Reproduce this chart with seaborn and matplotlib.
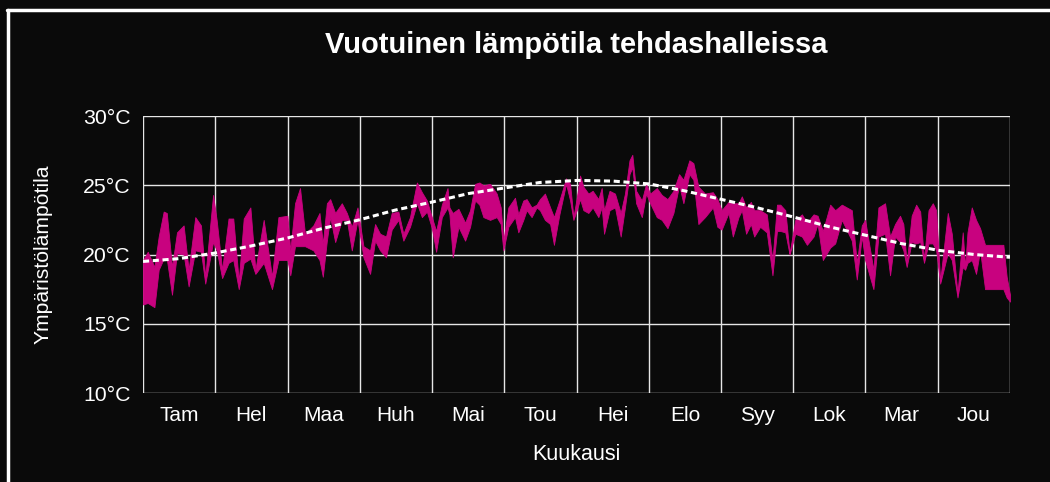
import matplotlib
matplotlib.use("Agg")
import matplotlib.pyplot as plt
import numpy as np
import pandas as pd
import seaborn as sns
from matplotlib.lines import Line2D

# päivä, ylä- ja alaraja (°C) luettu kuvasta
days = [0, 2, 4.8, 6.6, 8.7, 10, 12.2, 14.3, 17.1, 19.2, 22, 24.4, 26.2, 29.5, 31, 33.3,
        36, 38, 40.3, 42.4, 45.2, 47.3, 50.8, 54.3, 57, 60.8, 62, 64, 66.1, 68.2,
        71.7, 74.3, 75.7, 77.4, 78.8, 80.9, 83.7, 85.8, 87.9, 90.3, 92.8, 95.6, 97.7,
        99.8, 102.3, 104.7, 107.5, 109.6, 112.4, 115.3, 117.4, 119.5, 121.6, 123.4,
        125.8, 128.2, 129, 130.4, 132.8, 135.6, 137.7, 139.8, 141.6, 143.3, 146.1,
        148.9, 150.6, 151.7, 153.8, 156.6, 158, 160.1, 161.5, 163.6, 165.7, 167.1,
        169.2, 171.4, 173, 175.3, 178.1, 179.8, 181.2, 182.6, 184, 185.4, 187.5,
        189.3, 191.7, 193.1, 194.1, 196.4, 198.7, 201.1, 202.9, 204.8, 206, 207.6,
        210, 211.8, 213.5, 216.3, 218.4, 220.8, 223.3, 225.7, 227.5, 230, 231.7,
        233.8, 236.6, 239.9, 241.8, 243.6, 246.5, 248.3, 250.7, 252.1, 253.9, 255.9,
        257.3, 259.8, 262.6, 265, 266.9, 268.3, 270.4, 272.2, 274.6, 277.4, 279.5,
        282.3, 284, 286.2, 289.3, 291.4, 294.2, 298.4, 300.5, 302.6, 304, 307.5,
        309.6, 312.4, 314.5, 316.6, 318.7, 320.1, 321.5, 323.6, 325.5, 327.2, 328.8,
        330.7, 332.5, 333.9, 335.6, 338.8, 340.5, 342.9, 345.1, 346.1, 347.1, 348.9,
        350.7, 352.4, 354.5, 362.2, 363.6, 365]
upper = [19.6, 20.2, 19.1, 21.3, 23.1, 23.0, 19.1, 21.6, 22.1, 18.9, 22.7, 22.1, 18.4, 24.3, 22.5, 18.9,
         22.6, 22.6, 18.1, 22.6, 23.4, 18.9, 22.5, 18.4, 22.7, 22.8, 20.3, 23.7, 24.8, 21.5,
         22.1, 23.0, 20.8, 23.7, 24.0, 23.0, 23.7, 23.0, 22.0, 23.4, 20.6, 20.3, 22.2,
         21.5, 21.3, 23.0, 23.1, 21.5, 22.7, 25.2, 24.5, 23.9, 22.7, 21.7,
         23.6, 24.8, 23.4, 23.0, 23.3, 22.3, 23.2, 25.1, 25.2, 25.0, 25.1,
         24.4, 23.4, 21.0, 23.4, 24.1, 22.9, 23.9, 24.0, 23.4, 23.6, 24.0,
         24.4, 23.4, 22.7, 23.9, 25.5, 25.1, 22.7, 24.1, 25.7, 24.9, 24.4,
         24.6, 24.0, 24.8, 23.2, 24.6, 24.4, 23.0, 24.4, 26.8, 27.2, 24.6,
         23.9, 25.1, 24.4, 24.8, 24.3, 24.0, 24.6, 25.8, 25.4, 26.8, 26.6,
         24.9, 24.4, 24.5, 24.0, 23.2, 23.8, 23.7, 23.7, 24.2, 23.4, 23.8,
         23.2, 23.2, 22.9, 19.6, 23.6, 23.6, 23.2, 20.1, 22.5, 22.9, 22.3,
         22.9, 22.8, 21.7, 23.6, 23.2, 23.6, 23.2, 19.4, 22.1, 22.5, 18.9,
         23.4, 23.7, 21.3, 22.2, 22.8, 22.2, 19.4, 22.8, 23.6, 23.1, 19.6,
         23.2, 23.7, 23.2, 18.1, 23.0, 21.5, 17.2, 21.6, 19.1, 21.6, 23.4,
         22.5, 21.9, 20.7, 20.7, 18.4, 17.1]
lower = [16.4, 16.5, 16.2, 18.9, 19.7, 19.7, 17.1, 20.1, 20.0, 17.7, 20.3, 20.2, 17.9, 20.9, 20.3, 18.3,
         19.4, 19.6, 17.5, 19.4, 19.7, 18.6, 19.4, 17.5, 19.6, 19.6, 18.5, 20.6, 20.6, 20.6,
         20.3, 19.6, 18.4, 21.0, 22.7, 20.9, 22.5, 22.5, 20.3, 22.5, 19.8, 18.6, 21.0,
         20.3, 19.8, 21.8, 22.5, 21.0, 22.0, 23.7, 22.7, 23.1, 21.9, 20.2,
         22.7, 23.4, 22.9, 19.8, 22.0, 21.0, 22.0, 23.9, 23.6, 22.7, 22.5,
         22.7, 22.2, 20.3, 22.0, 22.7, 21.6, 22.5, 23.2, 22.7, 23.4, 23.2,
         22.5, 22.2, 20.7, 22.9, 25.1, 23.9, 22.5, 23.2, 24.0, 23.2, 23.0,
         23.4, 22.7, 23.4, 21.5, 23.2, 23.4, 21.3, 23.4, 25.8, 26.3, 23.7,
         22.7, 24.4, 23.7, 22.7, 22.5, 21.9, 23.0, 25.0, 23.7, 25.8, 25.4,
         22.2, 22.7, 23.4, 22.0, 21.8, 23.0, 21.3, 22.7, 23.2, 21.5, 22.2,
         21.3, 22.0, 21.6, 18.5, 21.7, 21.7, 21.6, 20.0, 21.5, 21.3, 20.7,
         21.3, 22.2, 19.6, 20.5, 20.8, 22.5, 21.0, 18.2, 21.3, 19.6, 17.5,
         21.3, 21.5, 18.5, 21.3, 20.9, 20.3, 19.1, 20.9, 20.8, 20.9, 19.4,
         20.8, 20.8, 20.3, 17.9, 20.1, 19.6, 16.9, 19.1, 18.9, 19.4, 19.6,
         18.6, 20.3, 17.5, 17.5, 16.9, 16.6]

# sovitettu vuosikäyrä
trend_days = [0, 15, 30, 45, 61, 76, 91, 106, 122, 137, 152, 167, 183, 198, 213, 228,
              243, 258, 274, 289, 304, 319, 335, 350, 365]
trend_vals = [19.5, 19.7, 20.1, 20.6, 21.2, 21.9, 22.5, 23.2, 23.8, 24.4, 24.8, 25.2, 25.35,
              25.3, 25.1, 24.6, 24.0, 23.4, 22.7, 22.0, 21.4, 20.8, 20.3, 20.0, 19.8]

months = ["Tam", "Hel", "Maa", "Huh", "Mai", "Tou", "Hei", "Elo", "Syy", "Lok", "Mar", "Jou"]
y_ticks = [10, 15, 20, 25, 30]

bg = "#0a0a0a"
magenta = "#c8027f"

sns.set_style("dark", {"axes.facecolor": bg, "figure.facecolor": bg,
                       "grid.color": "white", "text.color": "white",
                       "axes.labelcolor": "white", "xtick.color": "white",
                       "ytick.color": "white"})
plt.rcParams["font.family"] = ["Liberation Sans", "DejaVu Sans"]

band = pd.DataFrame({"day": days, "upper": upper, "lower": lower})
trend = pd.DataFrame({"day": trend_days, "temp": trend_vals})

fig = plt.figure(figsize=(10.5, 4.82), dpi=100)
ax = fig.add_axes([0.1362, 0.1846, 0.8257, 0.5747])

ax.fill_between(band["day"], band["lower"], band["upper"], color=magenta, lw=0.6,
                edgecolor=magenta, zorder=2)
sns.lineplot(data=trend, x="day", y="temp", ax=ax, color="white", lw=2.2,
             dashes=False, zorder=3)
ax.lines[-1].set_dashes((2.0, 1.2))

ax.set_xlim(0, 365)
ax.set_ylim(10, 30)
bounds = [i * 365 / 12 for i in range(13)]
ax.set_xticks(bounds)
ax.set_xticklabels([])
ax.set_xticks([b + 365 / 24 for b in bounds[:-1]], minor=True)
ax.set_xticklabels(months, minor=True, fontsize=15)
ax.tick_params(axis="x", which="major", length=7, width=1, color="#dddddd")
ax.tick_params(axis="x", which="minor", length=0, pad=9)
ax.set_yticks(y_ticks)
ax.set_yticklabels([f"{v}°C" for v in y_ticks], fontsize=15.3)
ax.tick_params(axis="y", length=6, width=1, color="#dddddd", pad=3)
ax.grid(True, color="#e6e6e6", lw=1)
for s in ax.spines.values():
    s.set_visible(False)

ax.set_xlabel("Kuukausi", fontsize=15.5, labelpad=14)
ax.set_ylabel("Ympäristölämpötila", fontsize=15.2, labelpad=22)
fig.text(0.549, 0.907, "Vuotuinen lämpötila tehdashalleissa", ha="center", va="center",
         fontsize=21, fontweight="bold", color="white")

# kehys kuvakaappauksen reunoilla
fig.add_artist(Line2D([0.007, 1.0], [0.979, 0.979], color="white", lw=2.5))
fig.add_artist(Line2D([0.008, 0.008], [0.0, 0.979], color="white", lw=2.5))

fig.savefig("out.png", dpi=100, facecolor=bg)
